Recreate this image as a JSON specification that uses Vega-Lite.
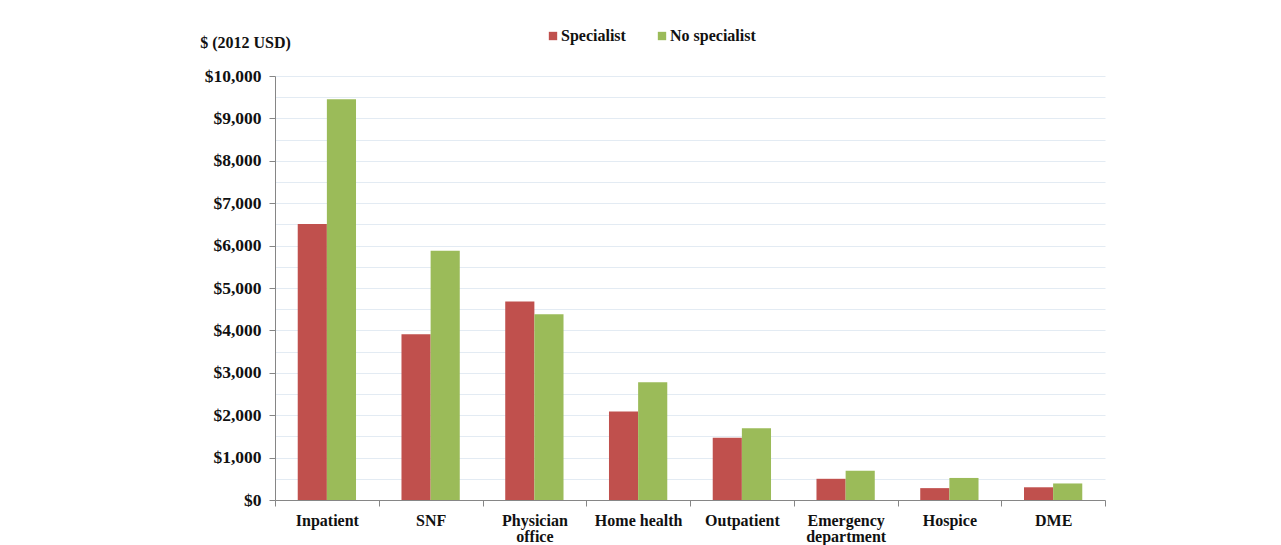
{
  "$schema": "https://vega.github.io/schema/vega-lite/v6.json",
  "autosize": {"type": "none"},
  "padding": {"left": 275, "top": 76, "right": 176, "bottom": 45},
  "width": 830,
  "height": 424,
  "background": "white",
  "data": {
    "values": [
      {"category": "Inpatient", "group": "Specialist", "cost": 6510},
      {"category": "Inpatient", "group": "No specialist", "cost": 9450},
      {"category": "SNF", "group": "Specialist", "cost": 3910},
      {"category": "SNF", "group": "No specialist", "cost": 5880},
      {"category": "Physician office", "group": "Specialist", "cost": 4680},
      {"category": "Physician office", "group": "No specialist", "cost": 4380},
      {"category": "Home health", "group": "Specialist", "cost": 2090},
      {"category": "Home health", "group": "No specialist", "cost": 2780},
      {"category": "Outpatient", "group": "Specialist", "cost": 1470},
      {"category": "Outpatient", "group": "No specialist", "cost": 1690},
      {"category": "Emergency department", "group": "Specialist", "cost": 500},
      {"category": "Emergency department", "group": "No specialist", "cost": 690},
      {"category": "Hospice", "group": "Specialist", "cost": 280},
      {"category": "Hospice", "group": "No specialist", "cost": 520},
      {"category": "DME", "group": "Specialist", "cost": 300},
      {"category": "DME", "group": "No specialist", "cost": 390}
    ]
  },
  "mark": {"type": "bar"},
  "encoding": {
    "x": {
      "field": "category",
      "type": "nominal",
      "sort": null,
      "scale": {"paddingInner": 0, "paddingOuter": 0},
      "axis": {
        "title": null,
        "labelAngle": 0,
        "tickBand": "extent",
        "domainColor": "#868686",
        "tickColor": "#868686",
        "tickSize": 6,
        "labelPadding": 6,
        "labelFont": "Liberation Serif",
        "labelFontWeight": "bold",
        "labelFontSize": 16,
        "labelColor": "#111111",
        "labelBaseline": "top",
        "labelLineHeight": 16.5,
        "labelExpr": "datum.label == 'Physician office' ? ['Physician', 'office'] : datum.label == 'Emergency department' ? ['Emergency', 'department'] : datum.label"
      }
    },
    "xOffset": {
      "field": "group",
      "type": "nominal",
      "sort": ["Specialist", "No specialist"],
      "scale": {"paddingInner": 0, "paddingOuter": 0.78}
    },
    "y": {
      "field": "cost",
      "type": "quantitative",
      "scale": {"domain": [0, 10000], "nice": false},
      "axis": {
        "title": "$ (2012 USD)",
        "titleAngle": 0,
        "titleX": -30,
        "titleY": -34,
        "titleAlign": "center",
        "titleBaseline": "middle",
        "titleFont": "Liberation Serif",
        "titleFontWeight": "bold",
        "titleFontSize": 16,
        "titleColor": "#111111",
        "values": [0, 500, 1000, 1500, 2000, 2500, 3000, 3500, 4000, 4500, 5000, 5500, 6000, 6500, 7000, 7500, 8000, 8500, 9000, 9500, 10000],
        "labelExpr": "datum.value % 1000 == 0 ? format(datum.value, '$,.0f') : ''",
        "labelFont": "Liberation Serif",
        "labelFontWeight": "bold",
        "labelFontSize": 17.5,
        "labelColor": "#111111",
        "labelPadding": 8,
        "domainColor": "#868686",
        "tickColor": "#868686",
        "tickSize": 6,
        "tickOpacity": {"condition": {"test": "datum.value % 1000 == 0", "value": 1}, "value": 0},
        "grid": true,
        "gridColor": "#e3ebf3",
        "gridWidth": 1
      }
    },
    "color": {
      "field": "group",
      "type": "nominal",
      "sort": ["Specialist", "No specialist"],
      "scale": {"domain": ["Specialist", "No specialist"], "range": ["#C0504D", "#9BBB59"]},
      "legend": {
        "title": null,
        "orient": "none",
        "direction": "horizontal",
        "legendX": 270,
        "legendY": -48,
        "symbolType": "square",
        "symbolSize": 70,
        "symbolOpacity": 1,
        "labelFont": "Liberation Serif",
        "labelFontWeight": "bold",
        "labelFontSize": 16,
        "labelColor": "#111111",
        "columnPadding": 28,
        "labelOffset": 0
      }
    }
  },
  "config": {
    "view": {"stroke": null}
  }
}
